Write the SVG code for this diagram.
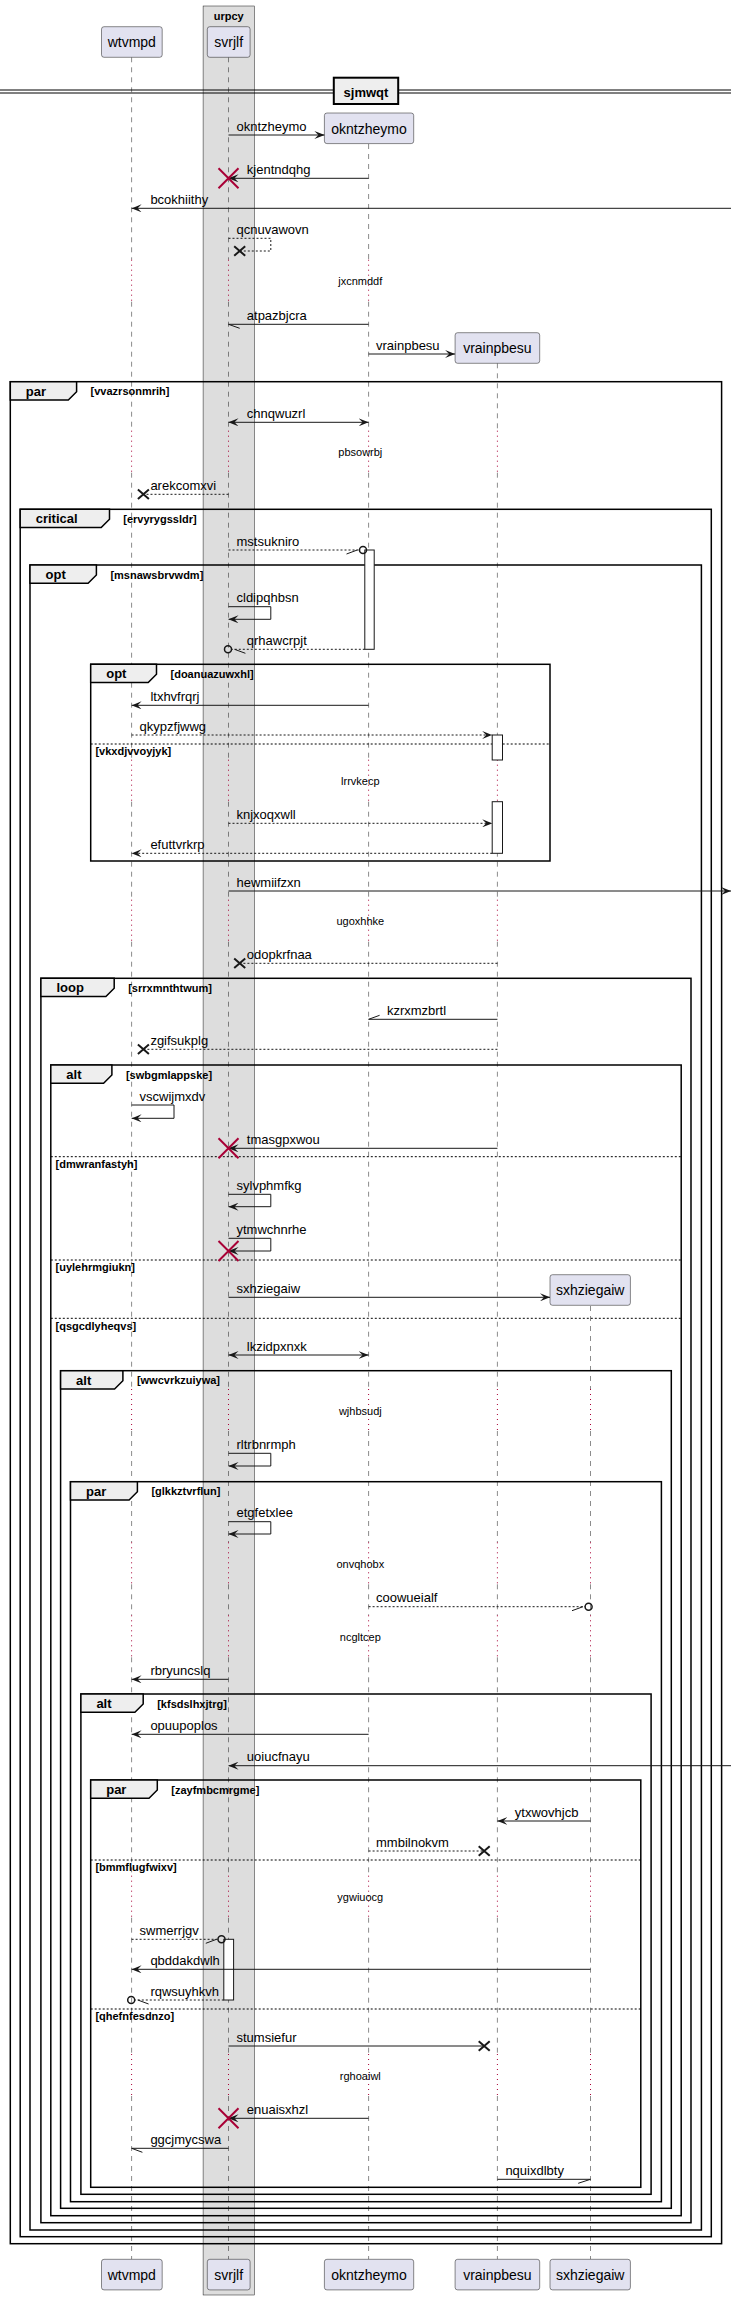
<svg xmlns="http://www.w3.org/2000/svg" width="731" height="2300" viewBox="0 0 731 2300">
<style>
text{font-family:"Liberation Sans",Arial,sans-serif;fill:#000}
.p{fill:#E2E2F0;stroke:#181818;stroke-width:0.5}
.pt{font-size:14px;text-anchor:middle}
.ll{fill:none;stroke:#181818;stroke-width:0.5;stroke-dasharray:5,5}
.dl{fill:none;stroke:#A80036;stroke-width:1;stroke-dasharray:1,4}
.m{fill:none;stroke:#181818;stroke-width:1}
.d{stroke-dasharray:2,2}
.t{font-size:13px}
.dt{font-size:11px;text-anchor:middle}
.fr{fill:none;stroke:#000;stroke-width:1.5}
.tab{fill:#EEEEEE;stroke:#000;stroke-width:1.5}
.gl{font-size:13px;font-weight:bold}
.gc{font-size:11px;font-weight:bold}
.el{stroke:#000;stroke-width:1;stroke-dasharray:2,2}
.act{fill:#fff;stroke:#181818;stroke-width:1}
.rx{stroke:#A80036;stroke-width:2;fill:none}
.bx{stroke:#181818;stroke-width:2;fill:none}
.ci{fill:none;stroke:#181818;stroke-width:1.5}
</style>
<defs>
<marker id="a" viewBox="0 0 10 8" refX="10" refY="4" markerWidth="10" markerHeight="8" markerUnits="userSpaceOnUse" orient="auto-start-reverse"><path d="M0,0L10,4L0,8L4,4Z" fill="#181818"/></marker>
</defs>
<g id="box-urpcy">
<rect x="203.1" y="6" width="51.2" height="2289" fill="#DDDDDD" stroke="#181818" stroke-width="0.5"/>
<text x="228.7" y="20" class="gc" text-anchor="middle">urpcy</text>
</g>
<g id="lifelines">
<path class="ll" d="M131.6,57.3V259.7M131.6,301.7V430.7M131.6,472.7V759.7M131.6,801.7V899.7M131.6,941.7V1389M131.6,1431V1542.3M131.6,1584.3V1615.3M131.6,1657.3V1875.7M131.6,1917.7V2054M131.6,2096V2259.3"/>
<path class="ll" d="M228.5,57.3V259.7M228.5,301.7V430.7M228.5,472.7V759.7M228.5,801.7V899.7M228.5,941.7V1389M228.5,1431V1542.3M228.5,1584.3V1615.3M228.5,1657.3V1875.7M228.5,1917.7V2054M228.5,2096V2259.3"/>
<path class="ll" d="M368.6,144V259.7M368.6,301.7V430.7M368.6,472.7V759.7M368.6,801.7V899.7M368.6,941.7V1389M368.6,1431V1542.3M368.6,1584.3V1615.3M368.6,1657.3V1875.7M368.6,1917.7V2054M368.6,2096V2259.3"/>
<path class="ll" d="M497.4,363.3V430.7M497.4,472.7V759.7M497.4,801.7V899.7M497.4,941.7V1389M497.4,1431V1542.3M497.4,1584.3V1615.3M497.4,1657.3V1875.7M497.4,1917.7V2054M497.4,2096V2259.3"/>
<path class="ll" d="M590.5,1306V1389M590.5,1431V1542.3M590.5,1584.3V1615.3M590.5,1657.3V1875.7M590.5,1917.7V2054M590.5,2096V2259.3"/>
<path class="dl" d="M131.6,259.7V301.7M131.6,430.7V472.7M131.6,759.7V801.7M131.6,899.7V941.7M131.6,1389V1431M131.6,1542.3V1584.3M131.6,1615.3V1657.3M131.6,1875.7V1917.7M131.6,2054V2096"/>
<path class="dl" d="M228.5,259.7V301.7M228.5,430.7V472.7M228.5,759.7V801.7M228.5,899.7V941.7M228.5,1389V1431M228.5,1542.3V1584.3M228.5,1615.3V1657.3M228.5,1875.7V1917.7M228.5,2054V2096"/>
<path class="dl" d="M368.6,259.7V301.7M368.6,430.7V472.7M368.6,759.7V801.7M368.6,899.7V941.7M368.6,1389V1431M368.6,1542.3V1584.3M368.6,1615.3V1657.3M368.6,1875.7V1917.7M368.6,2054V2096"/>
<path class="dl" d="M497.4,430.7V472.7M497.4,759.7V801.7M497.4,899.7V941.7M497.4,1389V1431M497.4,1542.3V1584.3M497.4,1615.3V1657.3M497.4,1875.7V1917.7M497.4,2054V2096"/>
<path class="dl" d="M590.5,1389V1431M590.5,1542.3V1584.3M590.5,1615.3V1657.3M590.5,1875.7V1917.7M590.5,2054V2096"/>
</g>
<g id="p-wtvmpd">
<rect class="p" x="101.5" y="26.7" width="60.7" height="30.6" rx="2.5"/><text class="pt" x="131.8" y="47.2">wtvmpd</text>
<rect class="p" x="101.5" y="2259.3" width="60.7" height="30.6" rx="2.5"/><text class="pt" x="131.8" y="2279.8">wtvmpd</text>
</g>
<g id="p-svrjlf">
<rect class="p" x="207.3" y="26.7" width="42.8" height="30.6" rx="2.5"/><text class="pt" x="228.7" y="47.2">svrjlf</text>
<rect class="p" x="207.3" y="2259.3" width="42.8" height="30.6" rx="2.5"/><text class="pt" x="228.7" y="2279.8">svrjlf</text>
</g>
<g id="p-okntzheymo">
<rect class="p" x="324.4" y="113" width="89.3" height="30.6" rx="2.5"/><text class="pt" x="369" y="133.5">okntzheymo</text>
<rect class="p" x="324.4" y="2259.3" width="89.3" height="30.6" rx="2.5"/><text class="pt" x="369" y="2279.8">okntzheymo</text>
</g>
<g id="p-vrainpbesu">
<rect class="p" x="455.1" y="332.7" width="84.6" height="30.6" rx="2.5"/><text class="pt" x="497.4" y="353.2">vrainpbesu</text>
<rect class="p" x="455.1" y="2259.3" width="84.6" height="30.6" rx="2.5"/><text class="pt" x="497.4" y="2279.8">vrainpbesu</text>
</g>
<g id="p-sxhziegaiw">
<rect class="p" x="550" y="1274.7" width="80.4" height="30.6" rx="2.5"/><text class="pt" x="590.2" y="1295.2">sxhziegaiw</text>
<rect class="p" x="550" y="2259.3" width="80.4" height="30.6" rx="2.5"/><text class="pt" x="590.2" y="2279.8">sxhziegaiw</text>
</g>
<g id="divider-sjmwqt">
<line x1="0" y1="90" x2="731" y2="90" stroke="#000" stroke-width="1"/>
<line x1="0" y1="93" x2="731" y2="93" stroke="#000" stroke-width="1"/>
<rect x="333.8" y="77.7" width="64.4" height="26.3" fill="#EEEEEE" stroke="#000" stroke-width="2"/>
<text x="366" y="96.5" class="gl" text-anchor="middle">sjmwqt</text>
</g>
<g id="frames">
<rect class="fr" x="10.3" y="381.7" width="711.3" height="1862"/>
<path class="tab" d="M10.3,381.7H76.6V391.7L68.3,400H10.3Z"/><text class="gl" x="25.8" y="395.7">par</text><text class="gc" x="90.6" y="395.2">[vvazrsonmrih]</text>
<rect class="fr" x="20.2" y="509.3" width="691.1" height="1727.4"/>
<path class="tab" d="M20.2,509.3H109.5V519.3L101.2,527.6H20.2Z"/><text class="gl" x="35.7" y="523.3">critical</text><text class="gc" x="123.3" y="522.8">[ervyrygssldr]</text>
<rect class="fr" x="30" y="565" width="671.4" height="1665"/>
<path class="tab" d="M30,565H96.4V575L88.1,583.3H30Z"/><text class="gl" x="45.5" y="579">opt</text><text class="gc" x="110.4" y="578.5">[msnawsbrvwdm]</text>
<rect class="fr" x="90.7" y="664.3" width="459.3" height="196.7"/>
<path class="tab" d="M90.7,664.3H156.5V674.3L148.2,682.6H90.7Z"/><text class="gl" x="106.2" y="678.3">opt</text><text class="gc" x="170.5" y="677.8">[doanuazuwxhl]</text>
<line class="el" x1="90.7" y1="744" x2="550" y2="744"/><text class="gc" x="95.4" y="755.3">[vkxdjvvoyjyk]</text>
<rect class="fr" x="40.9" y="978.3" width="650.1" height="1244.4"/>
<path class="tab" d="M40.9,978.3H114.2V988.3L105.9,996.6H40.9Z"/><text class="gl" x="56.4" y="992.3">loop</text><text class="gc" x="128.2" y="991.8">[srrxmnthtwum]</text>
<rect class="fr" x="50.8" y="1065" width="630.4" height="1150.7"/>
<path class="tab" d="M50.8,1065H111.9V1075L103.6,1083.3H50.8Z"/><text class="gl" x="66.3" y="1079">alt</text><text class="gc" x="125.9" y="1078.5">[swbgmlappske]</text>
<line class="el" x1="50.8" y1="1156.7" x2="681.2" y2="1156.7"/><text class="gc" x="55.5" y="1168">[dmwranfastyh]</text>
<line class="el" x1="50.8" y1="1260" x2="681.2" y2="1260"/><text class="gc" x="55.5" y="1271.3">[uylehrmgiukn]</text>
<line class="el" x1="50.8" y1="1318.3" x2="681.2" y2="1318.3"/><text class="gc" x="55.5" y="1329.6">[qsgcdlyheqvs]</text>
<rect class="fr" x="60.6" y="1370.7" width="610.7" height="837.6"/>
<path class="tab" d="M60.6,1370.7H122.9V1380.7L114.6,1389H60.6Z"/><text class="gl" x="76.1" y="1384.7">alt</text><text class="gc" x="136.9" y="1384.2">[wwcvrkzuiywa]</text>
<rect class="fr" x="70.5" y="1481.7" width="590.9" height="720"/>
<path class="tab" d="M70.5,1481.7H137.4V1491.7L129.1,1500H70.5Z"/><text class="gl" x="86" y="1495.7">par</text><text class="gc" x="151.4" y="1495.2">[glkkztvrflun]</text>
<rect class="fr" x="80.9" y="1694" width="570.2" height="500.3"/>
<path class="tab" d="M80.9,1694H143.2V1704L134.9,1712.3H80.9Z"/><text class="gl" x="96.4" y="1708">alt</text><text class="gc" x="157.2" y="1707.5">[kfsdslhxjtrg]</text>
<rect class="fr" x="90.7" y="1780" width="550.1" height="407.3"/>
<path class="tab" d="M90.7,1780H157.3V1790L149,1798.3H90.7Z"/><text class="gl" x="106.2" y="1794">par</text><text class="gc" x="171.3" y="1793.5">[zayfmbcmrgme]</text>
<line class="el" x1="90.7" y1="1860" x2="640.8" y2="1860"/><text class="gc" x="95.4" y="1871.3">[bmmflugfwixv]</text>
<line class="el" x1="90.7" y1="2009" x2="640.8" y2="2009"/><text class="gc" x="95.4" y="2020.3">[qhefnfesdnzo]</text>
</g>
<g id="activations">
<rect class="act" x="364.8" y="550" width="9.4" height="99.3"/>
<rect class="act" x="492.2" y="735" width="10.3" height="25"/>
<rect class="act" x="492.2" y="801.7" width="10.3" height="51.6"/>
<rect class="act" x="223.8" y="1939.3" width="9.8" height="60.7"/>
</g>
<g id="delays">
<text class="dt" x="360.3" y="285.2">jxcnmddf</text>
<text class="dt" x="360.3" y="456.2">pbsowrbj</text>
<text class="dt" x="360.3" y="785.2">lrrvkecp</text>
<text class="dt" x="360.3" y="925.2">ugoxhhke</text>
<text class="dt" x="360.3" y="1414.5">wjhbsudj</text>
<text class="dt" x="360.3" y="1567.8">onvqhobx</text>
<text class="dt" x="360.3" y="1640.8">ncgltcep</text>
<text class="dt" x="360.3" y="1901.2">ygwiuocg</text>
<text class="dt" x="360.3" y="2079.5">rghoaiwl</text>
</g>
<g id="connectors">
<line class="m" x1="228.5" y1="135" x2="324.4" y2="135" marker-end="url(#a)"/><text class="t" x="236.5" y="130.5">okntzheymo</text>
<line class="m" x1="368.6" y1="178.3" x2="228.5" y2="178.3" marker-end="url(#a)"/><path class="rx" d="M218.5,168.3L238.5,188.3M238.5,168.3L218.5,188.3"/><text class="t" x="246.8" y="173.8">kjentndqhg</text>
<line class="m" x1="731" y1="208.3" x2="131.6" y2="208.3" marker-end="url(#a)"/><text class="t" x="150.4" y="203.8">bcokhiithy</text>
<path class="m d" d="M228.5,238.3H270.8V251H239.7"/><path class="bx" d="M234.2,246.3L245.2,255.7M245.2,246.3L234.2,255.7"/><text class="t" x="236.5" y="233.8">qcnuvawovn</text>
<line class="m" x1="368.6" y1="324.3" x2="228.5" y2="324.3"/><line class="m" x1="228.5" y1="324.3" x2="239.7" y2="328.3"/><text class="t" x="246.8" y="319.8">atpazbjcra</text>
<line class="m" x1="368.6" y1="354" x2="455.1" y2="354" marker-end="url(#a)"/><text class="t" x="376" y="349.5">vrainpbesu</text>
<line class="m" x1="228.5" y1="422.3" x2="368.6" y2="422.3" marker-start="url(#a)" marker-end="url(#a)"/><text class="t" x="246.8" y="417.8">chnqwuzrl</text>
<line class="m d" x1="228.5" y1="494.3" x2="143.4" y2="494.3"/><path class="bx" d="M137.9,489.6L148.9,499M148.9,489.6L137.9,499"/><text class="t" x="150.4" y="489.8">arekcomxvi</text>
<line class="m d" x1="228.5" y1="550" x2="359.5" y2="550"/><circle class="ci" cx="363" cy="550" r="3.5"/><line class="m" x1="357.3" y1="550" x2="346.5" y2="554"/><text class="t" x="236.5" y="545.5">mstsukniro</text>
<path class="m" d="M228.5,606.7H270.8V619.3H228.5" marker-end="url(#a)"/><text class="t" x="236.5" y="602.2">cldipqhbsn</text>
<line class="m d" x1="364.8" y1="649.3" x2="231.5" y2="649.3"/><circle class="ci" cx="228" cy="649.3" r="3.5"/><line class="m" x1="234.5" y1="649.3" x2="245.4" y2="653.3"/><text class="t" x="246.8" y="644.8">qrhawcrpjt</text>
<line class="m" x1="368.6" y1="705.3" x2="131.6" y2="705.3" marker-end="url(#a)"/><text class="t" x="150.4" y="700.8">ltxhvfrqrj</text>
<line class="m d" x1="131.6" y1="735" x2="492.2" y2="735" marker-end="url(#a)"/><text class="t" x="139.6" y="730.5">qkypzfjwwg</text>
<line class="m d" x1="228.5" y1="823.3" x2="492.2" y2="823.3" marker-end="url(#a)"/><text class="t" x="236.5" y="818.8">knjxoqxwll</text>
<line class="m d" x1="492.2" y1="853.3" x2="131.6" y2="853.3" marker-end="url(#a)"/><text class="t" x="150.4" y="848.8">efuttvrkrp</text>
<line class="m" x1="228.5" y1="891" x2="731" y2="891" marker-end="url(#a)"/><text class="t" x="236.5" y="886.5">hewmiifzxn</text>
<line class="m d" x1="497.4" y1="963.3" x2="239.7" y2="963.3"/><path class="bx" d="M234.2,958.6L245.2,968M245.2,958.6L234.2,968"/><text class="t" x="246.8" y="958.8">odopkrfnaa</text>
<line class="m" x1="497.4" y1="1019.3" x2="368.6" y2="1019.3"/><line class="m" x1="368.6" y1="1019.3" x2="379.6" y2="1015.3"/><text class="t" x="386.9" y="1014.8">kzrxmzbrtl</text>
<line class="m d" x1="497.4" y1="1049.3" x2="143.4" y2="1049.3"/><path class="bx" d="M137.9,1044.6L148.9,1054M148.9,1044.6L137.9,1054"/><text class="t" x="150.4" y="1044.8">zgifsukplg</text>
<path class="m" d="M131.6,1105H174V1118.3H131.6" marker-end="url(#a)"/><text class="t" x="139.6" y="1100.5">vscwijmxdv</text>
<line class="m" x1="497.4" y1="1148.3" x2="228.5" y2="1148.3" marker-end="url(#a)"/><path class="rx" d="M218.5,1138.3L238.5,1158.3M238.5,1138.3L218.5,1158.3"/><text class="t" x="246.8" y="1143.8">tmasgpxwou</text>
<path class="m" d="M228.5,1194.3H270.8V1206.7H228.5" marker-end="url(#a)"/><text class="t" x="236.5" y="1189.8">sylvphmfkg</text>
<path class="m" d="M228.5,1238.3H270.8V1251H228.5" marker-end="url(#a)"/><path class="rx" d="M218.5,1241L238.5,1261M238.5,1241L218.5,1261"/><text class="t" x="236.5" y="1233.8">ytmwchnrhe</text>
<line class="m" x1="228.5" y1="1297.3" x2="550" y2="1297.3" marker-end="url(#a)"/><text class="t" x="236.5" y="1292.8">sxhziegaiw</text>
<line class="m" x1="228.5" y1="1355" x2="368.6" y2="1355" marker-start="url(#a)" marker-end="url(#a)"/><text class="t" x="246.8" y="1350.5">lkzidpxnxk</text>
<path class="m" d="M228.5,1453.3H270.8V1466H228.5" marker-end="url(#a)"/><text class="t" x="236.5" y="1448.8">rltrbnrmph</text>
<path class="m" d="M228.5,1521.7H270.8V1534H228.5" marker-end="url(#a)"/><text class="t" x="236.5" y="1517.2">etgfetxlee</text>
<line class="m d" x1="368.6" y1="1606.7" x2="585.1" y2="1606.7"/><circle class="ci" cx="588.6" cy="1606.7" r="3.5"/><line class="m" x1="583" y1="1606.7" x2="572" y2="1610.7"/><text class="t" x="376" y="1602.2">coowueialf</text>
<line class="m" x1="228.5" y1="1679.3" x2="131.6" y2="1679.3" marker-end="url(#a)"/><text class="t" x="150.4" y="1674.8">rbryuncslq</text>
<line class="m" x1="368.6" y1="1734.3" x2="131.6" y2="1734.3" marker-end="url(#a)"/><text class="t" x="150.4" y="1729.8">opuupoplos</text>
<line class="m" x1="731" y1="1765.7" x2="228.5" y2="1765.7" marker-end="url(#a)"/><text class="t" x="246.8" y="1761.2">uoiucfnayu</text>
<line class="m" x1="590.5" y1="1821" x2="497.4" y2="1821" marker-end="url(#a)"/><text class="t" x="514.8" y="1816.5">ytxwovhjcb</text>
<line class="m d" x1="368.6" y1="1851" x2="484.2" y2="1851"/><path class="bx" d="M478.7,1846.3L489.7,1855.7M489.7,1846.3L478.7,1855.7"/><text class="t" x="376" y="1846.5">mmbilnokvm</text>
<line class="m d" x1="131.6" y1="1939.3" x2="218" y2="1939.3"/><circle class="ci" cx="221.5" cy="1939.3" r="3.5"/><line class="m" x1="216.5" y1="1939.3" x2="205.8" y2="1943.3"/><text class="t" x="139.6" y="1934.8">swmerrjgv</text>
<line class="m" x1="590.5" y1="1969.3" x2="131.6" y2="1969.3" marker-end="url(#a)"/><text class="t" x="150.4" y="1964.8">qbddakdwlh</text>
<line class="m d" x1="223.8" y1="2000" x2="134.7" y2="2000"/><circle class="ci" cx="131.2" cy="2000" r="3.5"/><line class="m" x1="137.8" y1="2000" x2="148.6" y2="2004"/><text class="t" x="150.4" y="1995.5">rqwsuyhkvh</text>
<line class="m" x1="228.5" y1="2046" x2="484.2" y2="2046"/><path class="bx" d="M478.7,2041.3L489.7,2050.7M489.7,2041.3L478.7,2050.7"/><text class="t" x="236.5" y="2041.5">stumsiefur</text>
<line class="m" x1="368.6" y1="2118.3" x2="228.5" y2="2118.3" marker-end="url(#a)"/><path class="rx" d="M218.5,2108.3L238.5,2128.3M238.5,2108.3L218.5,2128.3"/><text class="t" x="246.8" y="2113.8">enuaisxhzl</text>
<line class="m" x1="228.5" y1="2148.3" x2="131.6" y2="2148.3"/><line class="m" x1="131.6" y1="2148.3" x2="142.4" y2="2152.3"/><text class="t" x="150.4" y="2143.8">ggcjmycswa</text>
<line class="m" x1="497.4" y1="2179.3" x2="590.5" y2="2179.3"/><line class="m" x1="590.5" y1="2179.3" x2="578.2" y2="2183.3"/><text class="t" x="505.4" y="2174.8">nquixdlbty</text>
</g>
</svg>
